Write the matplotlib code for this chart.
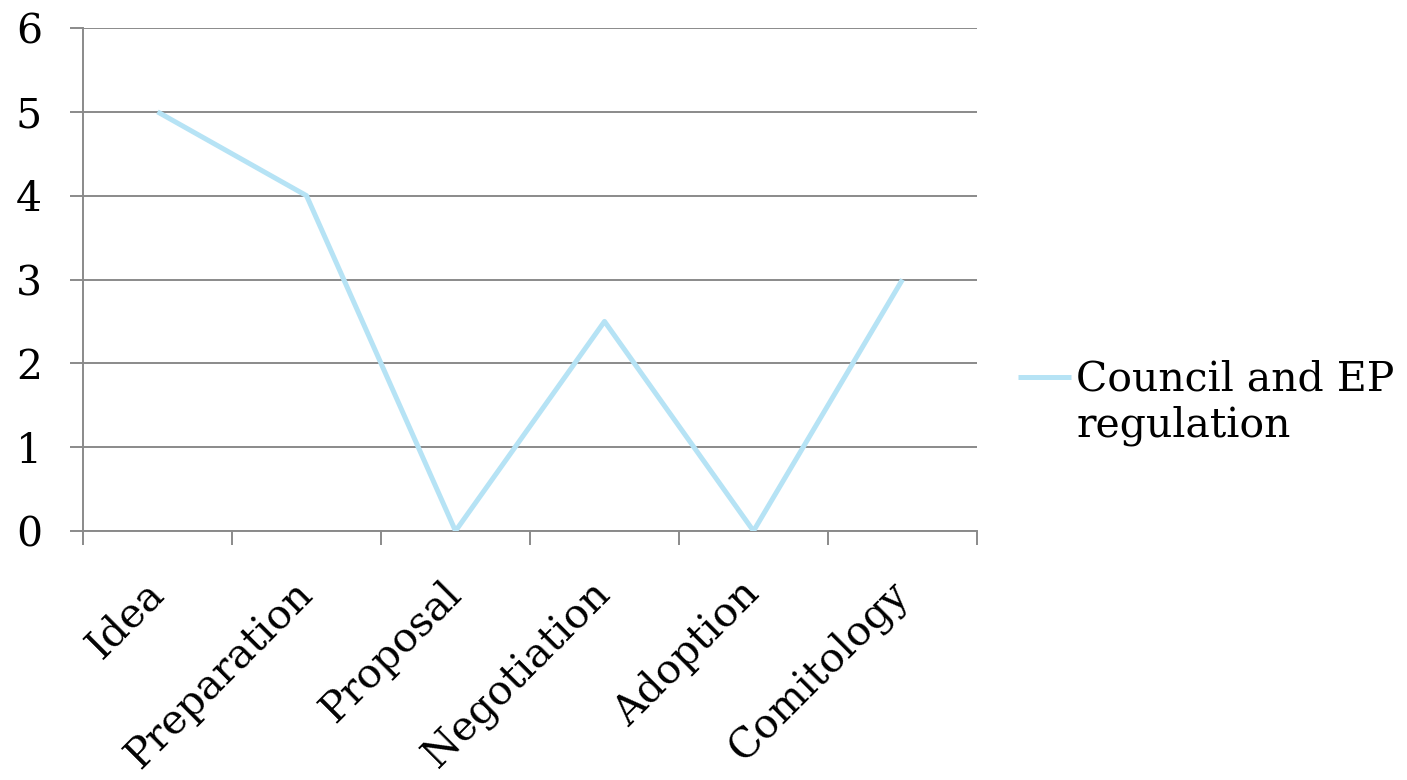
import numpy as np
import matplotlib
matplotlib.use('Agg')
import matplotlib.pyplot as plt
from matplotlib.legend_handler import HandlerLine2D

# data
stages = ['Idea', 'Preparation', 'Proposal', 'Negotiation', 'Adoption', 'Comitology']
values = [5, 4, 0, 2.5, 0, 3]
series_name = 'Council and EP\nregulation'
yticks = [0, 1, 2, 3, 4, 5, 6]

plt.rcParams['font.family'] = ['DejaVu Serif']
FS = 29.5
LINE_C = '#b6e3f5'
GRID_C = '#8a8a8a'


class TopLineHandler(HandlerLine2D):
    # put the legend line next to the first text row, like Excel does
    def create_artists(self, legend, orig_handle, xdescent, ydescent,
                       width, height, fontsize, trans):
        arts = super().create_artists(legend, orig_handle, xdescent, ydescent,
                                      width, height, fontsize, trans)
        for a in arts:
            xd, yd = a.get_data()
            a.set_data(xd, np.asarray(yd) + fontsize * 0.66)
        return arts


fig = plt.figure(figsize=(14.07, 7.8), dpi=100)
ax = fig.add_axes([83/1407, 1-531/780, (977-83)/1407, (531-28)/780])

x = np.arange(len(stages))
line, = ax.plot(x, values, color=LINE_C, lw=3.6, solid_capstyle='butt',
                label=series_name, zorder=3)

ax.set_xlim(-0.5, len(stages) - 0.5)
ax.set_ylim(0, 6)
ax.set_yticks(yticks)
ax.set_yticklabels([str(v) for v in yticks], fontsize=FS)
ax.yaxis.grid(True, color=GRID_C, lw=1.4)
ax.set_axisbelow(True)

ax.set_xticks(x)
ax.set_xticklabels(stages, fontsize=FS, rotation=45, ha='right',
                   rotation_mode='anchor', va='center')
ax.set_xticks(np.arange(len(stages) + 1) - 0.5, minor=True)
ax.tick_params(axis='x', which='major', length=0, pad=41)
ax.tick_params(axis='x', which='minor', length=10, width=1.4, color=GRID_C)
ax.tick_params(axis='y', length=9.5, width=1.4, color=GRID_C, pad=20)

for s in ['top', 'right']:
    ax.spines[s].set_visible(False)
for s in ['left', 'bottom']:
    ax.spines[s].set_color(GRID_C)
    ax.spines[s].set_linewidth(1.4)

fig.legend(handles=[line], loc='center left',
           bbox_to_anchor=(1018/1407, 1-403/780),
           frameon=False, fontsize=FS, borderpad=0, borderaxespad=0,
           handlelength=1.3, handletextpad=0.12,
           handler_map={line: TopLineHandler()})

fig.savefig('out.png', dpi=100)
